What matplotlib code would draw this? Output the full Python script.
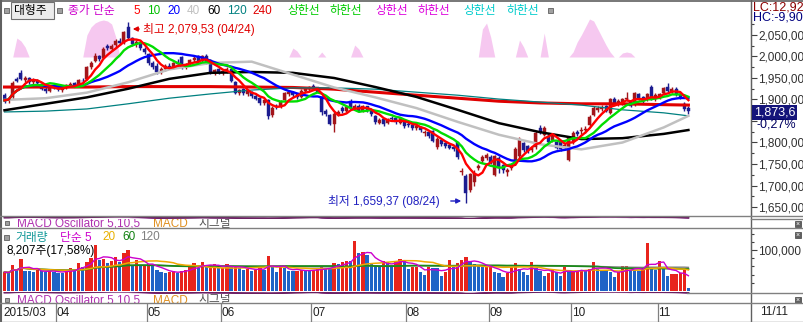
import numpy as np
import pandas as pd
import matplotlib
matplotlib.use("Agg")
import matplotlib.pyplot as plt
from matplotlib.lines import Line2D
from matplotlib.patches import Rectangle, FancyArrowPatch

plt.rcParams['font.family'] = ['Liberation Sans', 'Noto Sans CJK KR', 'DejaVu Sans']

# ---------------- data ----------------
opens = [1910, 1898, 1905, 1948, 1962, 1946, 1950, 1940, 1944, 1936, 1925, 1920, 1930,
         1925, 1922, 1928, 1932, 1938, 1932, 1944, 1948, 1976, 1990, 2000, 1996, 2024, 2018, 2026, 2036, 2032, 2068, 2042, 2028, 2032, 2018,
         2005, 1985, 1978, 1965, 1970, 1978, 1975, 1988, 1998, 1976, 1984, 1992, 2000, 1990, 2002, 1992, 1962, 1970,
         1962, 1968, 1970, 1940, 1914, 1924, 1912, 1918, 1908, 1904, 1892, 1898, 1864, 1884, 1884, 1898, 1912, 1918, 1912, 1906, 1920, 1924,
         1932, 1928, 1905, 1874, 1864, 1842, 1866, 1880, 1874, 1896, 1880, 1886, 1874, 1884, 1876, 1862, 1846, 1854, 1846, 1858, 1856, 1846, 1852,
         1844, 1840, 1834, 1836, 1822, 1824, 1826, 1790, 1806, 1798, 1794, 1790, 1800, 1732, 1722, 1690, 1708, 1740, 1756, 1764,
         1766, 1725, 1765, 1748, 1732, 1740, 1752, 1768, 1798, 1792, 1782, 1790, 1834, 1818, 1816, 1806, 1800, 1804, 1788, 1760,
         1800, 1825, 1826, 1828, 1840, 1865, 1876, 1878, 1885, 1868, 1902, 1890, 1892, 1900, 1896, 1888, 1912, 1905, 1900, 1930, 1900,
         1905, 1914, 1930, 1918, 1925, 1912, 1890, 1880]
highs = [1914, 1905, 1944, 1952, 1968, 1955, 1953, 1950, 1948, 1940, 1930, 1932, 1935,
         1932, 1930, 1936, 1940, 1941, 1948, 1950, 1978, 1990, 2008, 2004, 2022, 2030, 2028, 2040, 2042, 2060, 2079.53, 2046, 2038, 2035, 2022,
         2008, 1990, 1984, 1975, 1982, 1985, 1988, 1994, 2002, 1986, 1995, 2000, 2004, 2003, 2006, 1995, 1972, 1974,
         1972, 1976, 1973, 1944, 1925, 1927, 1922, 1920, 1912, 1906, 1902, 1900, 1884, 1890, 1898, 1918, 1922, 1920, 1915, 1924, 1930, 1932,
         1936, 1930, 1908, 1878, 1866, 1870, 1876, 1884, 1886, 1902, 1890, 1890, 1888, 1886, 1878, 1864, 1856, 1856, 1856, 1862, 1858, 1860, 1854,
         1848, 1842, 1842, 1838, 1830, 1826, 1828, 1812, 1808, 1800, 1796, 1792, 1802, 1740, 1726, 1730, 1735, 1750, 1770, 1775,
         1772, 1772, 1768, 1750, 1740, 1748, 1790, 1812, 1802, 1795, 1792, 1826, 1840, 1838, 1820, 1822, 1804, 1806, 1798, 1816,
         1826, 1830, 1836, 1838, 1864, 1884, 1886, 1888, 1888, 1904, 1906, 1900, 1904, 1918, 1898, 1918, 1916, 1908, 1916, 1934, 1914,
         1916, 1930, 1938, 1928, 1928, 1915, 1894, 1884]
lows = [1892, 1893, 1900, 1940, 1945, 1940, 1936, 1935, 1934, 1922, 1915, 1918, 1924,
        1920, 1918, 1925, 1928, 1928, 1930, 1938, 1946, 1972, 1988, 1990, 1994, 2015, 2012, 2022, 2026, 2030, 2040, 2025, 2022, 2015, 2005,
        1980, 1970, 1960, 1960, 1966, 1972, 1972, 1978, 1972, 1970, 1980, 1988, 1986, 1988, 1982, 1960, 1958, 1960,
        1958, 1962, 1940, 1912, 1910, 1910, 1908, 1904, 1898, 1888, 1888, 1855, 1860, 1878, 1880, 1894, 1908, 1906, 1902, 1904, 1914, 1920,
        1924, 1915, 1865, 1862, 1840, 1825, 1862, 1868, 1870, 1876, 1876, 1870, 1872, 1872, 1862, 1844, 1842, 1838, 1844, 1850, 1844, 1842, 1834,
        1836, 1830, 1830, 1824, 1814, 1810, 1800, 1786, 1792, 1788, 1784, 1780, 1762, 1725, 1659.37, 1684, 1700, 1736, 1752, 1760,
        1750, 1722, 1728, 1730, 1722, 1736, 1748, 1765, 1778, 1776, 1778, 1786, 1820, 1815, 1796, 1802, 1784, 1780, 1784, 1756,
        1796, 1816, 1820, 1822, 1838, 1862, 1872, 1874, 1870, 1866, 1888, 1886, 1888, 1896, 1882, 1884, 1898, 1892, 1896, 1898, 1896,
        1900, 1910, 1916, 1914, 1908, 1900, 1874, 1866]
closes = [1898, 1902, 1938, 1944, 1948, 1950, 1940, 1946, 1938, 1925, 1920, 1929, 1927,
          1924, 1928, 1933, 1937, 1931, 1945, 1942, 1975, 1986, 2000, 1994, 2018, 2020, 2025, 2036, 2032, 2057, 2044, 2030, 2034, 2020, 2010,
          1985, 1976, 1965, 1970, 1978, 1976, 1985, 1982, 1976, 1983, 1992, 1997, 1990, 2000, 1986, 1963, 1968, 1963,
          1967, 1972, 1942, 1916, 1922, 1914, 1919, 1908, 1902, 1892, 1899, 1862, 1880, 1882, 1895, 1914, 1918, 1910, 1906, 1920, 1926, 1928,
          1928, 1918, 1870, 1866, 1844, 1866, 1872, 1874, 1882, 1880, 1886, 1874, 1884, 1876, 1866, 1848, 1852, 1843, 1852, 1855, 1848, 1856, 1838,
          1840, 1834, 1838, 1828, 1824, 1814, 1803, 1808, 1796, 1792, 1788, 1784, 1766, 1734, 1682, 1726, 1730, 1746, 1766, 1772,
          1752, 1768, 1740, 1735, 1735, 1745, 1786, 1808, 1782, 1780, 1788, 1822, 1824, 1834, 1800, 1818, 1788, 1785, 1795, 1812,
          1822, 1820, 1830, 1832, 1860, 1880, 1880, 1882, 1874, 1900, 1892, 1897, 1900, 1903, 1886, 1915, 1902, 1896, 1912, 1902, 1910,
          1912, 1926, 1920, 1924, 1912, 1905, 1878, 1873.6]
volumes = [46, 44, 63, 51, 78, 50, 48, 46, 52, 48, 46, 50, 47,
           45, 44, 50, 55, 52, 68, 58, 70, 80, 112, 76, 78, 68, 72, 83, 70, 93, 100, 60, 76, 62, 64,
           66, 60, 52, 46, 44, 46, 48, 45, 50, 52, 58, 68, 56, 71, 58, 64, 66, 55,
           56, 66, 58, 60, 55, 52, 54, 50, 52, 58, 52, 85, 58, 46, 60, 56, 50, 48, 50, 52, 50, 48,
           52, 54, 58, 56, 55, 68, 66, 70, 73, 72, 122, 93, 95, 88, 68, 63, 61, 73, 70, 63, 72,
           78, 76, 54, 58, 59, 46, 40, 58, 57, 56, 37, 46, 76, 58, 68, 76, 83, 73, 66, 60,
           58, 59, 60, 46, 44, 34, 44, 58, 68, 54, 46, 40, 70, 56, 48, 37, 44, 54, 46, 37,
           58, 46, 48, 49, 51, 50, 54, 70, 53, 52, 51, 46, 34, 46, 60, 62, 52, 51, 50, 51, 117,
           56, 51, 73, 56, 37, 42, 42, 43, 51, 8.207]
volumes = [v * 1000 for v in volumes]

month_labels = ["2015/03", "04", "05", "06", "07", "08", "09", "10", "11"]
month_starts = [0, 13, 35, 53, 75, 98, 118, 138, 159]

ma_days = [0, 10, 20, 30, 40, 50, 60, 70, 80, 90, 100, 110, 120, 130, 140, 150, 160, 166]
ma40_vals = [1899, 1903, 1916, 1940, 1970, 1985, 1988, 1958, 1928, 1905, 1880, 1848, 1818, 1796, 1784, 1800, 1835, 1862]
ma60_vals = [1875, 1890, 1905, 1925, 1948, 1962, 1964, 1962, 1950, 1929, 1906, 1876, 1845, 1824, 1808, 1810, 1820, 1829]
ma120_vals = [1871, 1873, 1878, 1890, 1903, 1913, 1922, 1927, 1927, 1924, 1917, 1910, 1901, 1894, 1887, 1876, 1869, 1862]
ma240_vals = [1929, 1929, 1929, 1930, 1930, 1930, 1929, 1928, 1924, 1917, 1910, 1903, 1896, 1892, 1890, 1890, 1888, 1887]

pink_days = [3, 4, 5, 20, 21, 22, 23, 24, 25, 26, 27, 70, 71, 77, 85, 86, 116, 117, 118, 125, 126, 131,
             138, 139, 140, 141, 142, 143, 144, 145, 146, 147, 150, 151, 152]
pink_vals = [19, 16, 10, 22, 30, 34, 36, 37, 36, 33, 20, 9, 6, 5, 12, 8, 28, 34, 20, 17, 10, 24,
             5, 15, 22, 30, 38, 36, 28, 20, 12, 5, 4, 5, 4]

price_ticks = [1650, 1700, 1750, 1800, 1850, 1900, 1950, 2000, 2050]
high_text = "최고 2,079,53 (04/24)"
low_text = "최저 1,659,37 (08/24)"
last_text = "1,873,6"
chg_text = "-0,27%"
vol_text = "8,207주(17,58%)"
date_right = "11/11"

# ---------------- layout helpers ----------------
W, H = 804, 322
X0, DX = 4.5, 4.12


def R(x0, y0, x1, y1):
    return [x0 / W, 1 - y1 / H, (x1 - x0) / W, (y1 - y0) / H]


def fx(x):
    return x / W


def fy(y):
    return 1 - y / H


fig = plt.figure(figsize=(W / 100, H / 100), dpi=100)
fig.patch.set_facecolor('white')

N = len(closes)
idx = np.arange(N)
XL = ((3 - X0) / DX, (751 - X0) / DX)
o = np.array(opens, float); c = np.array(closes, float)
hi = np.array(highs, float); lo = np.array(lows, float)

# price scale: 2050 at y=35px, 0.43 px per point
PY0, P0, PPX = 35, 2050, 0.43
price_ylim = (P0 - (216 - PY0) / PPX, P0 + (PY0 - 2) / PPX)

# pink band axes (behind)
axp = fig.add_axes(R(3, 2, 751, 216))
axp.set_xlim(XL); axp.set_ylim(-(216 - 57), 57 - 2)
pink = np.zeros(N)
pink[pink_days] = pink_vals
axp.fill_between(idx, 0, pink, color='#f6c8f0', lw=0)
axp.axis('off')

# main price axes
ax = fig.add_axes(R(3, 2, 751, 216))
ax.set_facecolor('none')
ax.set_xlim(XL); ax.set_ylim(price_ylim)

up = c >= o
ccol = np.where(up, '#a3151a', '#1c1c90')
ax.vlines(idx, lo, hi, colors=ccol, lw=1, zorder=3)
body_h = np.maximum(np.abs(c - o), 1.2)
ax.bar(idx, body_h, bottom=np.minimum(o, c), width=0.72, color=ccol, edgecolor=ccol, lw=0.3, zorder=3)

cs = pd.Series(c)
ax.plot(ma_days, ma240_vals, color='#e00000', lw=2.2, zorder=4)
ax.plot(ma_days, ma120_vals, color='#008080', lw=0.9, zorder=4)
ax.plot(ma_days, ma60_vals, color='#000000', lw=1.8, zorder=4)
ax.plot(ma_days, ma40_vals, color='#c0c0c0', lw=1.8, zorder=4)
ax.plot(idx, cs.rolling(20, min_periods=1).mean(), color='#0000ff', lw=1.7, zorder=5)
ax.plot(idx, cs.rolling(10, min_periods=1).mean(), color='#00dd00', lw=1.7, zorder=5)
ax.plot(idx, cs.rolling(5, min_periods=1).mean(), color='#ff0000', lw=1.7, zorder=5)

for s in ['top', 'left', 'bottom']:
    ax.spines[s].set_visible(False)
ax.spines['right'].set_color('#606060')
ax.yaxis.tick_right()
ax.set_xticks([])
ax.set_yticks(price_ticks)
ax.set_yticklabels(["" if v == 1850 else f"{v:,.2f}".replace('.', ',') for v in price_ticks])
ax.set_yticks([v + 25 for v in price_ticks[:-1]] + [2075], minor=True)
ax.tick_params(axis='y', which='major', length=4, width=0.8, color='#404040', labelsize=8.5,
               labelcolor='#303030', pad=1)
ax.tick_params(axis='y', which='minor', length=2, width=0.8, color='#404040')

# high / low annotations
fig.text(fx(143), fy(29), high_text, color='#e00000', fontsize=8.5, ha='left', va='center')
fig.add_artist(FancyArrowPatch((fx(142), fy(29)), (fx(130), fy(29)), transform=fig.transFigure,
                               arrowstyle='-|>', mutation_scale=7, color='#e00000', lw=1))
fig.text(fx(328), fy(201), low_text, color='#2020c0', fontsize=8.5, ha='left', va='center')
fig.add_artist(FancyArrowPatch((fx(448), fy(201)), (fx(464), fy(201)), transform=fig.transFigure,
                               arrowstyle='-|>', mutation_scale=7, color='#2020c0', lw=1))

# top legend
fig.add_artist(Rectangle((fx(11), fy(19)), 43 / W, 17 / H, transform=fig.transFigure,
                         facecolor='#ececec', edgecolor='#707070', lw=0.8))
fig.text(fx(14), fy(11), "대형주", fontsize=8.5, color='#000000', ha='left', va='center')
for sx, sy in [(4, 8), (57, 8), (548, 8)]:
    fig.add_artist(Rectangle((fx(sx), fy(sy + 5)), 5 / W, 5 / H, transform=fig.transFigure,
                             facecolor='#a0a0a0', edgecolor='#606060', lw=0.6))
legend_items = [("종가 단순", 68, '#cc00cc'), ("5", 133, '#ff0000'), ("10", 147, '#00c000'),
                ("20", 167, '#0000ff'), ("40", 187, '#c0c0c0'), ("60", 207, '#000000'),
                ("120", 227, '#008080'), ("240", 252, '#e00000'), ("상한선", 287, '#00cc00'),
                ("하한선", 330, '#00cc00'), ("상한선", 375, '#dd00dd'), ("하한선", 418, '#dd00dd'),
                ("상한선", 463, '#00cccc'), ("하한선", 507, '#00cccc')]
for t, x, col in legend_items:
    fig.text(fx(x), fy(11), t, fontsize=8.5, color=col, ha='left', va='center')

# right side labels
fig.text(fx(753), fy(7), "LC:12,92", fontsize=9, color='#8b0000', ha='left', va='center')
fig.text(fx(753), fy(18), "HC:-9,90", fontsize=9, color='#000080', ha='left', va='center')
ly = PY0 + (P0 - closes[-1]) * PPX
fig.text(fx(754), fy(ly + 1.5), last_text, fontsize=9, color='white', ha='left', va='center',
         bbox=dict(boxstyle='square,pad=0.12', facecolor='#14147a', edgecolor='none'))
fig.text(fx(757), fy(124), chg_text, fontsize=9, color='#000060', ha='left', va='center')

# ---- MACD strips ----
ema5 = cs.ewm(span=5, adjust=False).mean()
ema10 = cs.ewm(span=10, adjust=False).mean()
macd = ema5 - ema10
sig = macd.ewm(span=5, adjust=False).mean()
osc = macd - sig
for (y0, y1) in [(216.5, 219), (291.5, 294)]:
    am = fig.add_axes(R(3, y0, 751, y1))
    am.set_xlim(XL)
    lo_m = min(macd.min(), sig.min(), osc.min()); hi_m = max(macd.max(), sig.max(), osc.max())
    am.set_ylim(lo_m, hi_m)
    am.fill_between(idx, 0, osc, color='#8a2a8a', lw=0)
    am.plot(idx, macd, color='#7a1f7a', lw=1.2)
    am.plot(idx, sig, color='#6a2060', lw=1.2)
    am.axis('off')

for (y0, y1, yc) in [(219, 228, 224), (294, 303, 300.5)]:
    at = fig.add_axes(R(3, y0, 751, y1))
    at.set_xlim(0, 748); at.set_ylim(y1, y0)
    at.axis('off')
    at.add_patch(Rectangle((2, yc - 3), 4, 4, facecolor='#a0a0a0', edgecolor='#606060', lw=0.6, clip_on=True))
    at.text(14, yc, "MACD Oscillator 5,10,5", color='#b030b0', fontsize=8.5, va='center', ha='left', clip_on=True)
    at.text(150, yc, "MACD", color='#e09020', fontsize=8.5, va='center', ha='left', clip_on=True)
    at.text(195, yc, "시그널", color='#505050', fontsize=8.5, va='center', ha='left', clip_on=True)

# ---- volume panel ----
av = fig.add_axes(R(3, 228, 751, 291))
av.set_xlim(XL)
VPX = 41 / 100000
av.set_ylim(0, (291 - 228) / VPX)
vs = pd.Series(volumes, dtype=float)
vcol = ['#e8241c' if (i == 0 or volumes[i] >= volumes[i - 1]) else '#1f63c6' for i in range(N)]
av.bar(idx, volumes, width=0.78, color=vcol, lw=0, zorder=2)
av.plot(idx, vs.rolling(120, min_periods=1).mean(), color='#808080', lw=1, zorder=3)
av.plot(idx, vs.rolling(60, min_periods=1).mean(), color='#1a8a1a', lw=1.3, zorder=3)
av.plot(idx, vs.rolling(20, min_periods=1).mean(), color='#f0a800', lw=1.1, zorder=3)
av.plot(idx, vs.rolling(5, min_periods=1).mean(), color='#cc00cc', lw=1, zorder=3)
for s in ['top', 'left', 'bottom']:
    av.spines[s].set_visible(False)
av.spines['right'].set_color('#606060')
av.yaxis.tick_right()
av.set_xticks([])
av.set_yticks([100000]); av.set_yticklabels(["100,000"])
av.set_yticks([20000, 40000, 60000, 80000, 120000, 140000], minor=True)
av.tick_params(axis='y', which='major', length=4, width=0.8, color='#404040', labelsize=8.5,
               labelcolor='#303030', pad=1)
av.tick_params(axis='y', which='minor', length=2, width=0.8, color='#404040')

fig.add_artist(Rectangle((fx(4), fy(240)), 5 / W, 5 / H, transform=fig.transFigure,
                         facecolor='#a0a0a0', edgecolor='#606060', lw=0.6))
for t, x, col in [("거래량", 15, '#109898'), ("단순 5", 60, '#cc00cc'), ("20", 102, '#e8b000'),
                  ("60", 122, '#108010'), ("120", 140, '#808080')]:
    fig.text(fx(x), fy(237.5), t, fontsize=8.5, color=col, ha='left', va='center')
fig.text(fx(7), fy(251), vol_text, fontsize=8.5, color='#000000', ha='left', va='center')

# ---- date axis ----
ad = fig.add_axes(R(3, 303, 751, 322))
ad.set_xlim(XL); ad.set_ylim(0, 1)
ad.axis('off')
for k, (m, lab) in enumerate(zip(month_starts, month_labels)):
    if k > 0:
        ad.axvline(m - 0.5, color='#808080', lw=0.9)
        ad.text(m - 0.35, 0.5, lab, fontsize=8.5, color='#202020', va='center', ha='left')
    else:
        ad.text(XL[0] + 0.1, 0.5, lab, fontsize=8.5, color='#202020', va='center', ha='left')
fig.text(fx(760), fy(312), date_right, fontsize=8.5, color='#202020', ha='left', va='center')

# ---- frame lines ----
def hline(y, x0=0, x1=804, col='#808080', lw=1.0):
    fig.add_artist(Line2D([fx(x0), fx(x1)], [fy(y), fy(y)], color=col, lw=lw, transform=fig.transFigure))


def vline(x, y0=0, y1=322, col='#808080', lw=1.0):
    fig.add_artist(Line2D([fx(x), fx(x)], [fy(y0), fy(y1)], color=col, lw=lw, transform=fig.transFigure))


hline(0.5, col='#606060', lw=1.2)
vline(0.7, col='#606060', lw=1.5)
vline(751, col='#606060', lw=1.0)
hline(216.3, col='#808080')
hline(228, col='#808080')
hline(292.5, x0=687, col='#808080')
hline(303, col='#808080')
hline(321.5, col='#808080')
hline(218.5, x0=751, col='#808080')
for by in [221, 232, 297]:
    fig.add_artist(Rectangle((fx(795), fy(by + 6)), 6 / W, 6 / H, transform=fig.transFigure,
                             facecolor='#606060', edgecolor='#404040', lw=0.5))
    fig.text(fx(798), fy(by + 3), "×", fontsize=5, color='white', ha='center', va='center')

fig.savefig("out.png", dpi=100, facecolor='white')
